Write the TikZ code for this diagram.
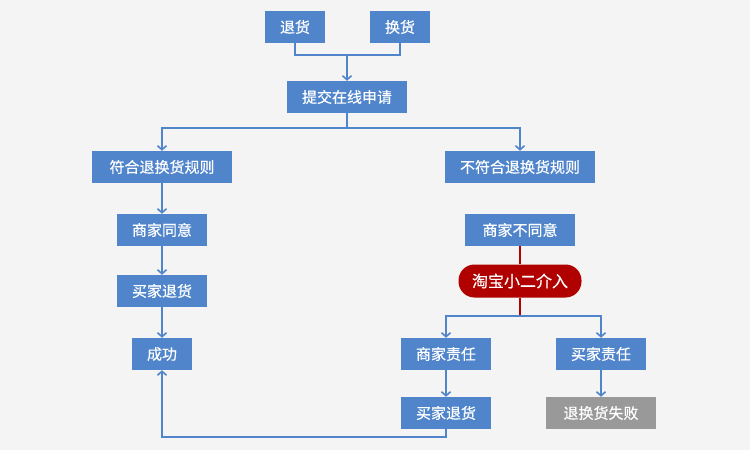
\documentclass[tikz,border=0pt]{standalone}
\usepackage{fontspec}
\setmainfont{Noto Sans CJK SC}[FakeBold=0.4]
\usetikzlibrary{arrows.meta}
\definecolor{bg}{HTML}{F4F4F4}
\definecolor{boxblue}{HTML}{5085CB}
\definecolor{lineblue}{HTML}{5085CB}
\definecolor{pillred}{HTML}{B00000}
\definecolor{failgray}{HTML}{999999}
\begin{document}
\begin{tikzpicture}[x=1pt,y=-1pt,
  box/.style={fill=boxblue,text=white,minimum height=32pt,inner sep=0pt,font=\fontsize{15}{17}\selectfont},
  conn/.style={draw=lineblue,line width=1.8pt},
  arr/.style={conn,-{Straight Barb[length=4pt,width=9pt,line width=1.6pt]}},
  redline/.style={draw=pillred,line width=1.8pt}]
\fill[bg] (0,0) rectangle (750,450);
\useasboundingbox (0,0) rectangle (750,450);
\node[box,minimum width=60pt] (th) at (295,27) {退货};
\node[box,minimum width=60pt] (hh) at (400,27) {换货};
\node[box,minimum width=120pt] (sub) at (347,97) {提交在线申请};
\node[box,minimum width=140pt] (fh) at (162,167) {符合退换货规则};
\node[box,minimum width=150pt] (bfh) at (520,167) {不符合退换货规则};
\node[box,minimum width=90pt] (sjty) at (162,230) {商家同意};
\node[box,minimum width=110pt] (sjbty) at (520,230) {商家不同意};
\node[box,fill=pillred,minimum width=123pt,minimum height=33pt,rounded corners=16pt,font=\fontsize{16}{18}\selectfont] (tb) at (520,281) {淘宝小二介入};
\node[box,minimum width=90pt] (mjth1) at (162,291) {买家退货};
\node[box,minimum width=60pt] (cg) at (162,354) {成功};
\node[box,minimum width=90pt] (sjzr) at (446,354) {商家责任};
\node[box,minimum width=90pt] (mjzr) at (601,354) {买家责任};
\node[box,minimum width=90pt] (mjth2) at (446,413) {买家退货};
\node[box,fill=failgray,minimum width=110pt] (fail) at (601,413) {退换货失败};
\coordinate (j1) at (347,55);
\coordinate (j2) at (347,128);
\coordinate (j3) at (520,316);
\draw[conn] (th.south) |- (j1) -| (hh.south);
\draw[arr] (j1) -- (sub.north);
\draw[conn] (sub.south) -- (j2);
\draw[arr] (j2) -| (fh.north);
\draw[arr] (j2) -| (bfh.north);
\draw[arr] (fh.south) -- (sjty.north);
\draw[arr] (sjty.south) -- (mjth1.north);
\draw[arr] (mjth1.south) -- (cg.north);
\draw[redline] (sjbty.south) -- (tb.north);
\draw[redline] (tb.south) -- (j3);
\draw[arr] (j3) -| (sjzr.north);
\draw[arr] (j3) -| (mjzr.north);
\draw[arr] (sjzr.south) -- (mjth2.north);
\draw[arr] (mjzr.south) -- (fail.north);
\draw[arr] (mjth2.south) -- ++(0,8) -| (cg.south);
\end{tikzpicture}
\end{document}
